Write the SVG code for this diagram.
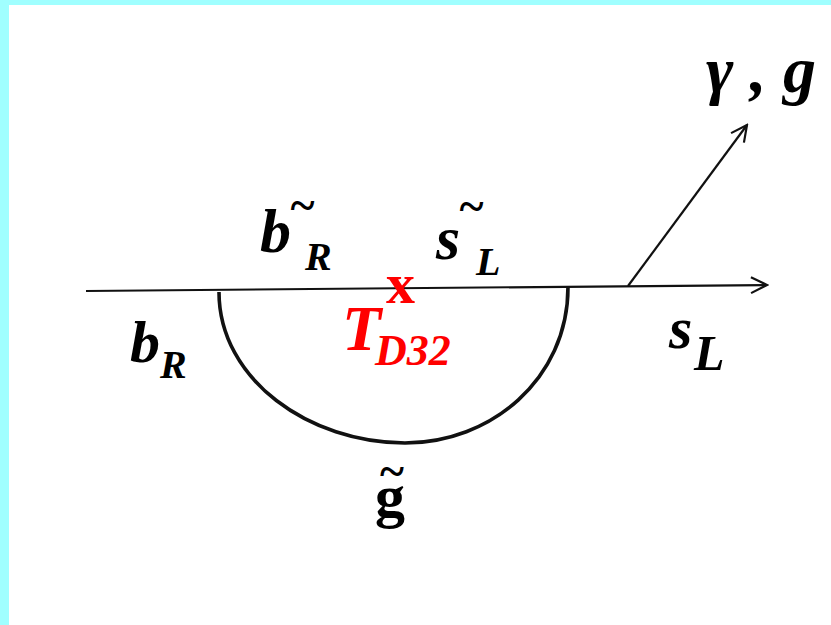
<svg xmlns="http://www.w3.org/2000/svg" width="831" height="625" viewBox="0 0 831 625">
<defs>
<style>
text{font-family:'Liberation Serif',serif;font-weight:700;font-style:italic;fill:#000}
.red{fill:#ff0000}
.up{font-style:normal}
.ln{stroke:#111;stroke-width:2.2;fill:none}
</style>
<marker id="ah" viewBox="0 0 20 20" refX="18" refY="10" markerWidth="20" markerHeight="20" markerUnits="userSpaceOnUse" orient="auto">
<path d="M2,2 L18,10 L2,18" fill="none" stroke="#111" stroke-width="2.2"/>
</marker>
</defs>
<rect x="0" y="0" width="831" height="625" fill="#a0ffff"/>
<rect x="9" y="5" width="822" height="620" fill="#ffffff"/>
<g id="connectors">
<line class="ln" x1="86" y1="291" x2="767" y2="285" marker-end="url(#ah)"/>
<line class="ln" x1="628" y1="286" x2="747" y2="125" marker-end="url(#ah)"/>
<path d="M219,292 C219,380 310,443 405,443 C490,443 568,380 568,287" fill="none" stroke="#111" stroke-width="3.6"/>
</g>
<g id="b-sq">
<text x="260" y="252" font-size="62">b</text>
<text x="289" y="221" font-size="46">~</text>
<text x="305" y="270" font-size="40">R</text>
</g>
<g id="s-sq">
<text x="436" y="259" font-size="62">s</text>
<text x="458" y="222" font-size="46">~</text>
<text x="476" y="275" font-size="40">L</text>
</g>
<g id="vertex">
<text class="red up" x="386" y="303" font-size="58">x</text>
<text class="red" x="342" y="350" font-size="64">T</text>
<text class="red" x="375" y="365" font-size="44">D32</text>
</g>
<g id="bR">
<text x="130" y="362" font-size="60">b</text>
<text x="160" y="378" font-size="40">R</text>
</g>
<g id="sL">
<text x="669" y="348" font-size="60">s</text>
<text x="694" y="370" font-size="50">L</text>
</g>
<g id="gamma-g">
<text x="706" y="92" font-size="66">γ , g</text>
</g>
<g id="gluino">
<text class="up" x="375" y="516" font-size="60">g</text>
<text class="up" x="380" y="487" font-size="46">~</text>
</g>
</svg>
